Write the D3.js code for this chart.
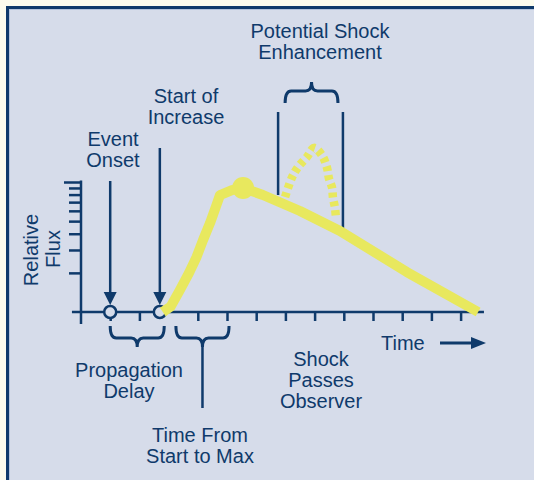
<!DOCTYPE html>
<html><head><meta charset="utf-8">
<script src="https://cdn.jsdelivr.net/npm/d3@7"></script>
<style>html,body{margin:0;padding:0;background:#fcfcee;} svg{display:block}</style>
</head><body><svg id="c" width="534" height="480"></svg>
<script>
// ---- data (time in tick units, flux relative, log scale) ----
const xTicks = [1, 2, 4, 5, 6, 7, 8, 9, 10, 11, 12, 13];
const yTicks = [2, 3, 4, 5, 6, 7, 8, 9, 10];
const fluxTime  = [2.80, 3.07, 3.39, 3.70, 3.96, 4.18, 4.42, 4.62, 4.76, 5.17, 5.55, 6.23, 7.5, 8.87, 11.16, 13.6];
const fluxValue = [1.0, 1.10, 1.48, 2.0, 2.66, 3.58, 4.84, 6.46, 7.94, 8.66, 9.0, 7.94, 5.98, 4.20, 2.03, 1.0];
const enhTime  = [6.99, 7.23, 7.43, 7.74, 7.98, 8.25, 8.42, 8.49, 8.60, 8.63, 8.70, 8.73];
const enhValue = [7.67, 10.9, 13.0, 15.6, 18.3, 16.1, 13.0, 10.7, 9.0, 7.54, 6.31, 5.28];
const peakTime = 5.55, peakValue = 9.0;
const onsetTime = 1.0, startTime = 2.7;
const enhLeftTime = 6.75, enhRightTime = 8.97;

const NAVY = "#0f3a6b", YELLOW = "#e8e85e", PANEL = "#d6dcea";
const svg = d3.select("#c");
const font = "'Liberation Sans', Arial, Helvetica, sans-serif";

// panel
svg.append("rect").attr("x", 7.5).attr("y", 7.5).attr("width", 600).attr("height", 600)
  .attr("fill", PANEL).attr("stroke", NAVY).attr("stroke-width", 3);
svg.append("rect").attr("x", 9.5).attr("y", 9.5).attr("width", 600).attr("height", 600)
  .attr("fill", "none").attr("stroke", "#b3c3db").attr("stroke-width", 1);

const x = d3.scaleLinear().domain([0, 14]).range([81, 81 + 14 * 29.2]);
const y = d3.scaleLog().domain([1, 10]).range([312, 182]);
const base = y(1);

// x axis
const gx = svg.append("g").attr("transform", `translate(0,${base})`)
  .call(d3.axisBottom(x).tickValues(xTicks).tickSize(9).tickFormat(""));
gx.select(".domain").remove();
gx.selectAll("line").attr("stroke", NAVY).attr("stroke-width", 2.5);
svg.append("line").attr("x1", x(-0.31)).attr("x2", x(13.8)).attr("y1", base).attr("y2", base)
  .attr("stroke", NAVY).attr("stroke-width", 2.5);

// y axis
const gy = svg.append("g").attr("transform", `translate(${x(0)},0)`)
  .call(d3.axisLeft(y).tickValues(yTicks).tickSize(12).tickFormat(""));
gy.select(".domain").remove();
gy.selectAll("line").attr("stroke", NAVY).attr("stroke-width", 2.5);
gy.selectAll(".tick").filter(d => d === 10).select("line").attr("x2", -17);
svg.append("line").attr("x1", x(0)).attr("x2", x(0)).attr("y1", y(10) - 1.5).attr("y2", base + 12)
  .attr("stroke", NAVY).attr("stroke-width", 2.5);

// arrows down to circles
function downArrow(t, topY) {
  const cx = x(t), tip = base - 7;
  svg.append("line").attr("x1", cx).attr("x2", cx).attr("y1", topY).attr("y2", tip - 12)
    .attr("stroke", NAVY).attr("stroke-width", 2.5);
  svg.append("path").attr("d", `M${cx - 6.5},${tip - 13}L${cx + 6.5},${tip - 13}L${cx},${tip}Z`).attr("fill", NAVY);
}
downArrow(onsetTime, 181);
downArrow(startTime, 148);

[onsetTime, startTime].forEach(t => {
  svg.append("circle").attr("cx", x(t)).attr("cy", base).attr("r", 6)
    .attr("fill", PANEL).attr("stroke", NAVY).attr("stroke-width", 2.5);
});

// braces
function brace(x1, x2, y0, dir) { // dir=1 points down, -1 up
  const xc = (x1 + x2) / 2, ym = y0 + dir * 12, yt = y0 + dir * 21, r = 6;
  return `M${x1},${y0} Q${x1},${ym} ${x1 + r},${ym} L${xc - r},${ym} Q${xc},${ym} ${xc},${yt}` +
         ` Q${xc},${ym} ${xc + r},${ym} L${x2 - r},${ym} Q${x2},${ym} ${x2},${y0}`;
}
svg.append("path").attr("d", brace(x(onsetTime), x(2.85), base + 14, 1))
  .attr("fill", "none").attr("stroke", NAVY).attr("stroke-width", 3);
svg.append("path").attr("d", brace(x(3.25), x(5.07), base + 14, 1))
  .attr("fill", "none").attr("stroke", NAVY).attr("stroke-width", 3);
svg.append("line").attr("x1", x(4.16)).attr("x2", x(4.16)).attr("y1", base + 35).attr("y2", 408)
  .attr("stroke", NAVY).attr("stroke-width", 2.5);
svg.append("path").attr("d", brace(x(6.99), x(8.8), 103, -1))
  .attr("fill", "none").attr("stroke", NAVY).attr("stroke-width", 3);

// enhancement verticals
svg.append("line").attr("x1", x(enhLeftTime)).attr("x2", x(enhLeftTime)).attr("y1", 112).attr("y2", 195)
  .attr("stroke", NAVY).attr("stroke-width", 2.5);
svg.append("line").attr("x1", x(enhRightTime)).attr("x2", x(enhRightTime)).attr("y1", 112).attr("y2", 229)
  .attr("stroke", NAVY).attr("stroke-width", 2.5);

// flux curve
const line = d3.line().x(d => x(d[0])).y(d => y(d[1]));
svg.append("path").datum(d3.zip(enhTime, enhValue))
  .attr("d", line.curve(d3.curveCatmullRom))
  .attr("fill", "none").attr("stroke", YELLOW).attr("stroke-width", 8.5).attr("stroke-dasharray", "5,4");
svg.append("path").datum(d3.zip(fluxTime, fluxValue))
  .attr("d", line.curve(d3.curveLinear))
  .attr("fill", "none").attr("stroke", YELLOW).attr("stroke-width", 10).attr("stroke-linejoin", "round");
svg.append("circle").attr("cx", x(peakTime)).attr("cy", y(peakValue)).attr("r", 11).attr("fill", YELLOW);

// time arrow
svg.append("line").attr("x1", 440).attr("x2", 473).attr("y1", 343).attr("y2", 343)
  .attr("stroke", NAVY).attr("stroke-width", 3);
svg.append("path").attr("d", "M471,337L486,343L471,349Z").attr("fill", NAVY);

// texts
function label(lines, cx, y0, anchor = "middle") {
  const t = svg.append("text").attr("font-family", font).attr("font-size", 20).attr("fill", NAVY)
    .attr("text-anchor", anchor);
  lines.forEach((s, i) => t.append("tspan").attr("x", cx).attr("y", y0 + i * 21).text(s));
}
label(["Potential Shock", "Enhancement"], 320, 38);
label(["Start of", "Increase"], 186, 103);
label(["Event", "Onset"], 113, 146);
label(["Propagation", "Delay"], 129, 377);
label(["Time From", "Start to Max"], 200, 442);
label(["Shock", "Passes", "Observer"], 321, 366);
label(["Time"], 381, 350, "start");
svg.append("text").attr("font-family", font).attr("font-size", 20).attr("fill", NAVY)
  .attr("text-anchor", "middle").attr("transform", "translate(38,250) rotate(-90)").text("Relative");
svg.append("text").attr("font-family", font).attr("font-size", 20).attr("fill", NAVY)
  .attr("text-anchor", "middle").attr("transform", "translate(60,249) rotate(-90)").text("Flux");
</script></body></html>
